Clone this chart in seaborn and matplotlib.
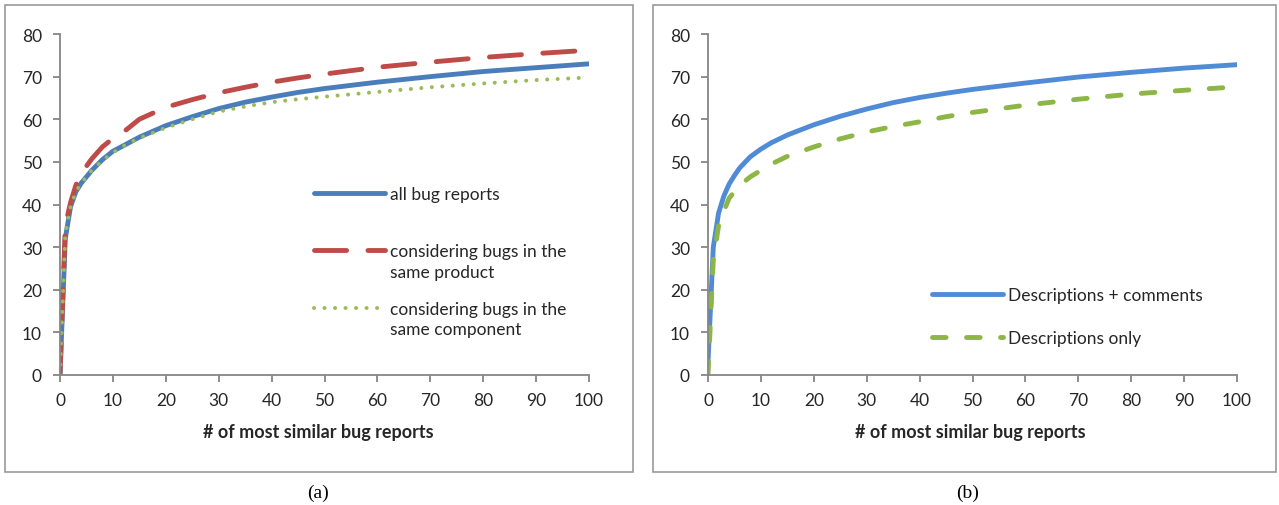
import numpy as np
import pandas as pd
import matplotlib
matplotlib.use("Agg")
import matplotlib.pyplot as plt
import matplotlib.patches as mpatches
import seaborn as sns

# ---------------------------------------------------------
# Data (x = # of most similar bug reports)
# ---------------------------------------------------------
k_values = [0, 1, 2, 3, 4, 5, 6, 8, 10, 12, 15, 20, 25, 30, 35, 40, 45, 50, 60, 70, 80, 90, 100]

# panel (a)
all_reports = [0, 32, 39.5, 43, 45, 46.5, 48, 50.5, 52.5, 53.8, 55.8, 58.5, 60.6, 62.5, 64, 65.2,
               66.3, 67.2, 68.7, 70, 71.2, 72.1, 73]
same_product = [0, 35, 40.5, 44.5, 47.3, 49, 50.7, 53.5, 55.5, 57, 60, 62.8, 64.6, 66.2, 67.5, 68.7,
                69.7, 70.6, 72.2, 73.4, 74.5, 75.4, 76.2]
same_component = [0, 33, 39.5, 43, 45, 46.5, 48, 50.3, 52.2, 53.7, 55.6, 58, 60, 61.8, 63, 64,
                  64.7, 65.3, 66.4, 67.5, 68.4, 69.2, 69.8]

# panel (b)
desc_comments = [3, 30, 38, 42, 44.8, 46.8, 48.6, 51.2, 53, 54.5, 56.3, 58.7, 60.7, 62.4, 63.9, 65.1,
                 66.1, 67, 68.5, 69.9, 71, 72, 72.8]
desc_only = [0, 27, 35, 38.5, 41.5, 43, 44.5, 46.5, 48, 49.5, 51.3, 53.5, 55.4, 57, 58.3, 59.4,
             60.6, 61.6, 63.3, 64.7, 65.9, 66.8, 67.6]

labels_a = ["all bug reports", "considering bugs in the\nsame product",
            "considering bugs in the\nsame component"]
labels_b = ["Descriptions + comments", "Descriptions only"]

y_ticks = [0, 10, 20, 30, 40, 50, 60, 70, 80]
x_ticks = [0, 10, 20, 30, 40, 50, 60, 70, 80, 90, 100]
x_title = "# of most similar bug reports"

df_a = pd.DataFrame({"k": k_values * 3,
                     "pct": all_reports + same_product + same_component,
                     "series": np.repeat(labels_a, len(k_values))})
df_b = pd.DataFrame({"k": k_values * 2,
                     "pct": desc_comments + desc_only,
                     "series": np.repeat(labels_b, len(k_values))})

sns.set_style("white")
plt.rcParams["font.family"] = ["Lato", "DejaVu Sans"]

FS = 12.5      # tick / legend text
LSP = 1.36     # line spacing in the legend

fig = plt.figure(figsize=(12.79, 5.06), dpi=100)
W, H = 1279, 506

# grey boxes around the two charts
for x0, x1 in [(5, 633), (653, 1276)]:
    fig.patches.append(mpatches.Rectangle((x0 / W, (H - 473) / H), (x1 - x0) / W, 467 / H,
                                          transform=fig.transFigure, fill=False,
                                          edgecolor="#9a9a9a", linewidth=1.2))

ax_a = fig.add_axes([60 / W, 130 / H, 529 / W, 341 / H])
ax_b = fig.add_axes([708 / W, 130 / H, 529 / W, 341 / H])

sns.lineplot(data=df_a, x="k", y="pct", hue="series", style="series", ax=ax_a,
             palette=["#4a7ebb", "#be4b48", "#9bbb59"],
             dashes=["", (6.6, 4.4), (0.01, 2.6)], linewidth=3.5, legend=False,
             dash_capstyle="round", solid_capstyle="round")
sns.lineplot(data=df_b, x="k", y="pct", hue="series", style="series", ax=ax_b,
             palette=["#4f8bd6", "#8db646"],
             dashes=["", (2.8, 4.2)], linewidth=3.5, legend=False,
             dash_capstyle="round", solid_capstyle="round")
# dotted line a bit thinner
ax_a.get_lines()[2].set_linewidth(2.9)

for ax in (ax_a, ax_b):
    ax.set_xlim(0, 100)
    ax.set_ylim(0, 80)
    ax.set_xticks(x_ticks)
    ax.set_yticks(y_ticks)
    ax.set_xlabel(x_title, fontsize=13, fontweight="bold", color="#262626", labelpad=12)
    ax.set_ylabel("")
    for side in ("top", "right"):
        ax.spines[side].set_visible(False)
    for side in ("left", "bottom"):
        ax.spines[side].set_color("#868686")
        ax.spines[side].set_linewidth(1.3)
    ax.tick_params(axis="both", direction="out", length=5, width=1.3, color="#868686",
                   labelsize=FS, labelcolor="#262626", left=True, bottom=True)
    ax.tick_params(axis="y", pad=8)
    ax.tick_params(axis="x", pad=7)
    ax.set_facecolor("none")

# axis title in (a) sits a little left of centre
ax_a.xaxis.set_label_coords(0.488, -0.14)
ax_b.xaxis.set_label_coords(0.496, -0.14)

# first label gets an empty second line so the three entries are evenly spaced
leg_a = ax_a.legend(ax_a.get_lines(), [labels_a[0] + "\n"] + labels_a[1:], loc="upper left",
                    bbox_to_anchor=(0.48, 0.555), frameon=False, fontsize=FS,
                    handlelength=4.1, handletextpad=0.3, labelspacing=1.2,
                    borderpad=0, borderaxespad=0)
for h, t in zip(leg_a.legend_handles, leg_a.get_texts()):
    t.set_color("#262626")
    t.set_linespacing(LSP)
    # keep the handle level with the first text line
    h.set_ydata(np.asarray(h.get_ydata()) + 0.5 * LSP * FS)

leg_b = ax_b.legend(ax_b.get_lines(), labels_b, loc="upper left", bbox_to_anchor=(0.423, 0.258),
                    frameon=False, fontsize=FS, handlelength=4.1, handletextpad=0.3,
                    labelspacing=1.55, borderpad=0, borderaxespad=0)
for t in leg_b.get_texts():
    t.set_color("#262626")

fig.text(318 / W, (H - 493) / H, "(a)", family="Liberation Serif", fontsize=14,
         ha="center", va="center", color="black")
fig.text(968 / W, (H - 493) / H, "(b)", family="Liberation Serif", fontsize=14,
         ha="center", va="center", color="black")

fig.savefig("out.png", dpi=100)
